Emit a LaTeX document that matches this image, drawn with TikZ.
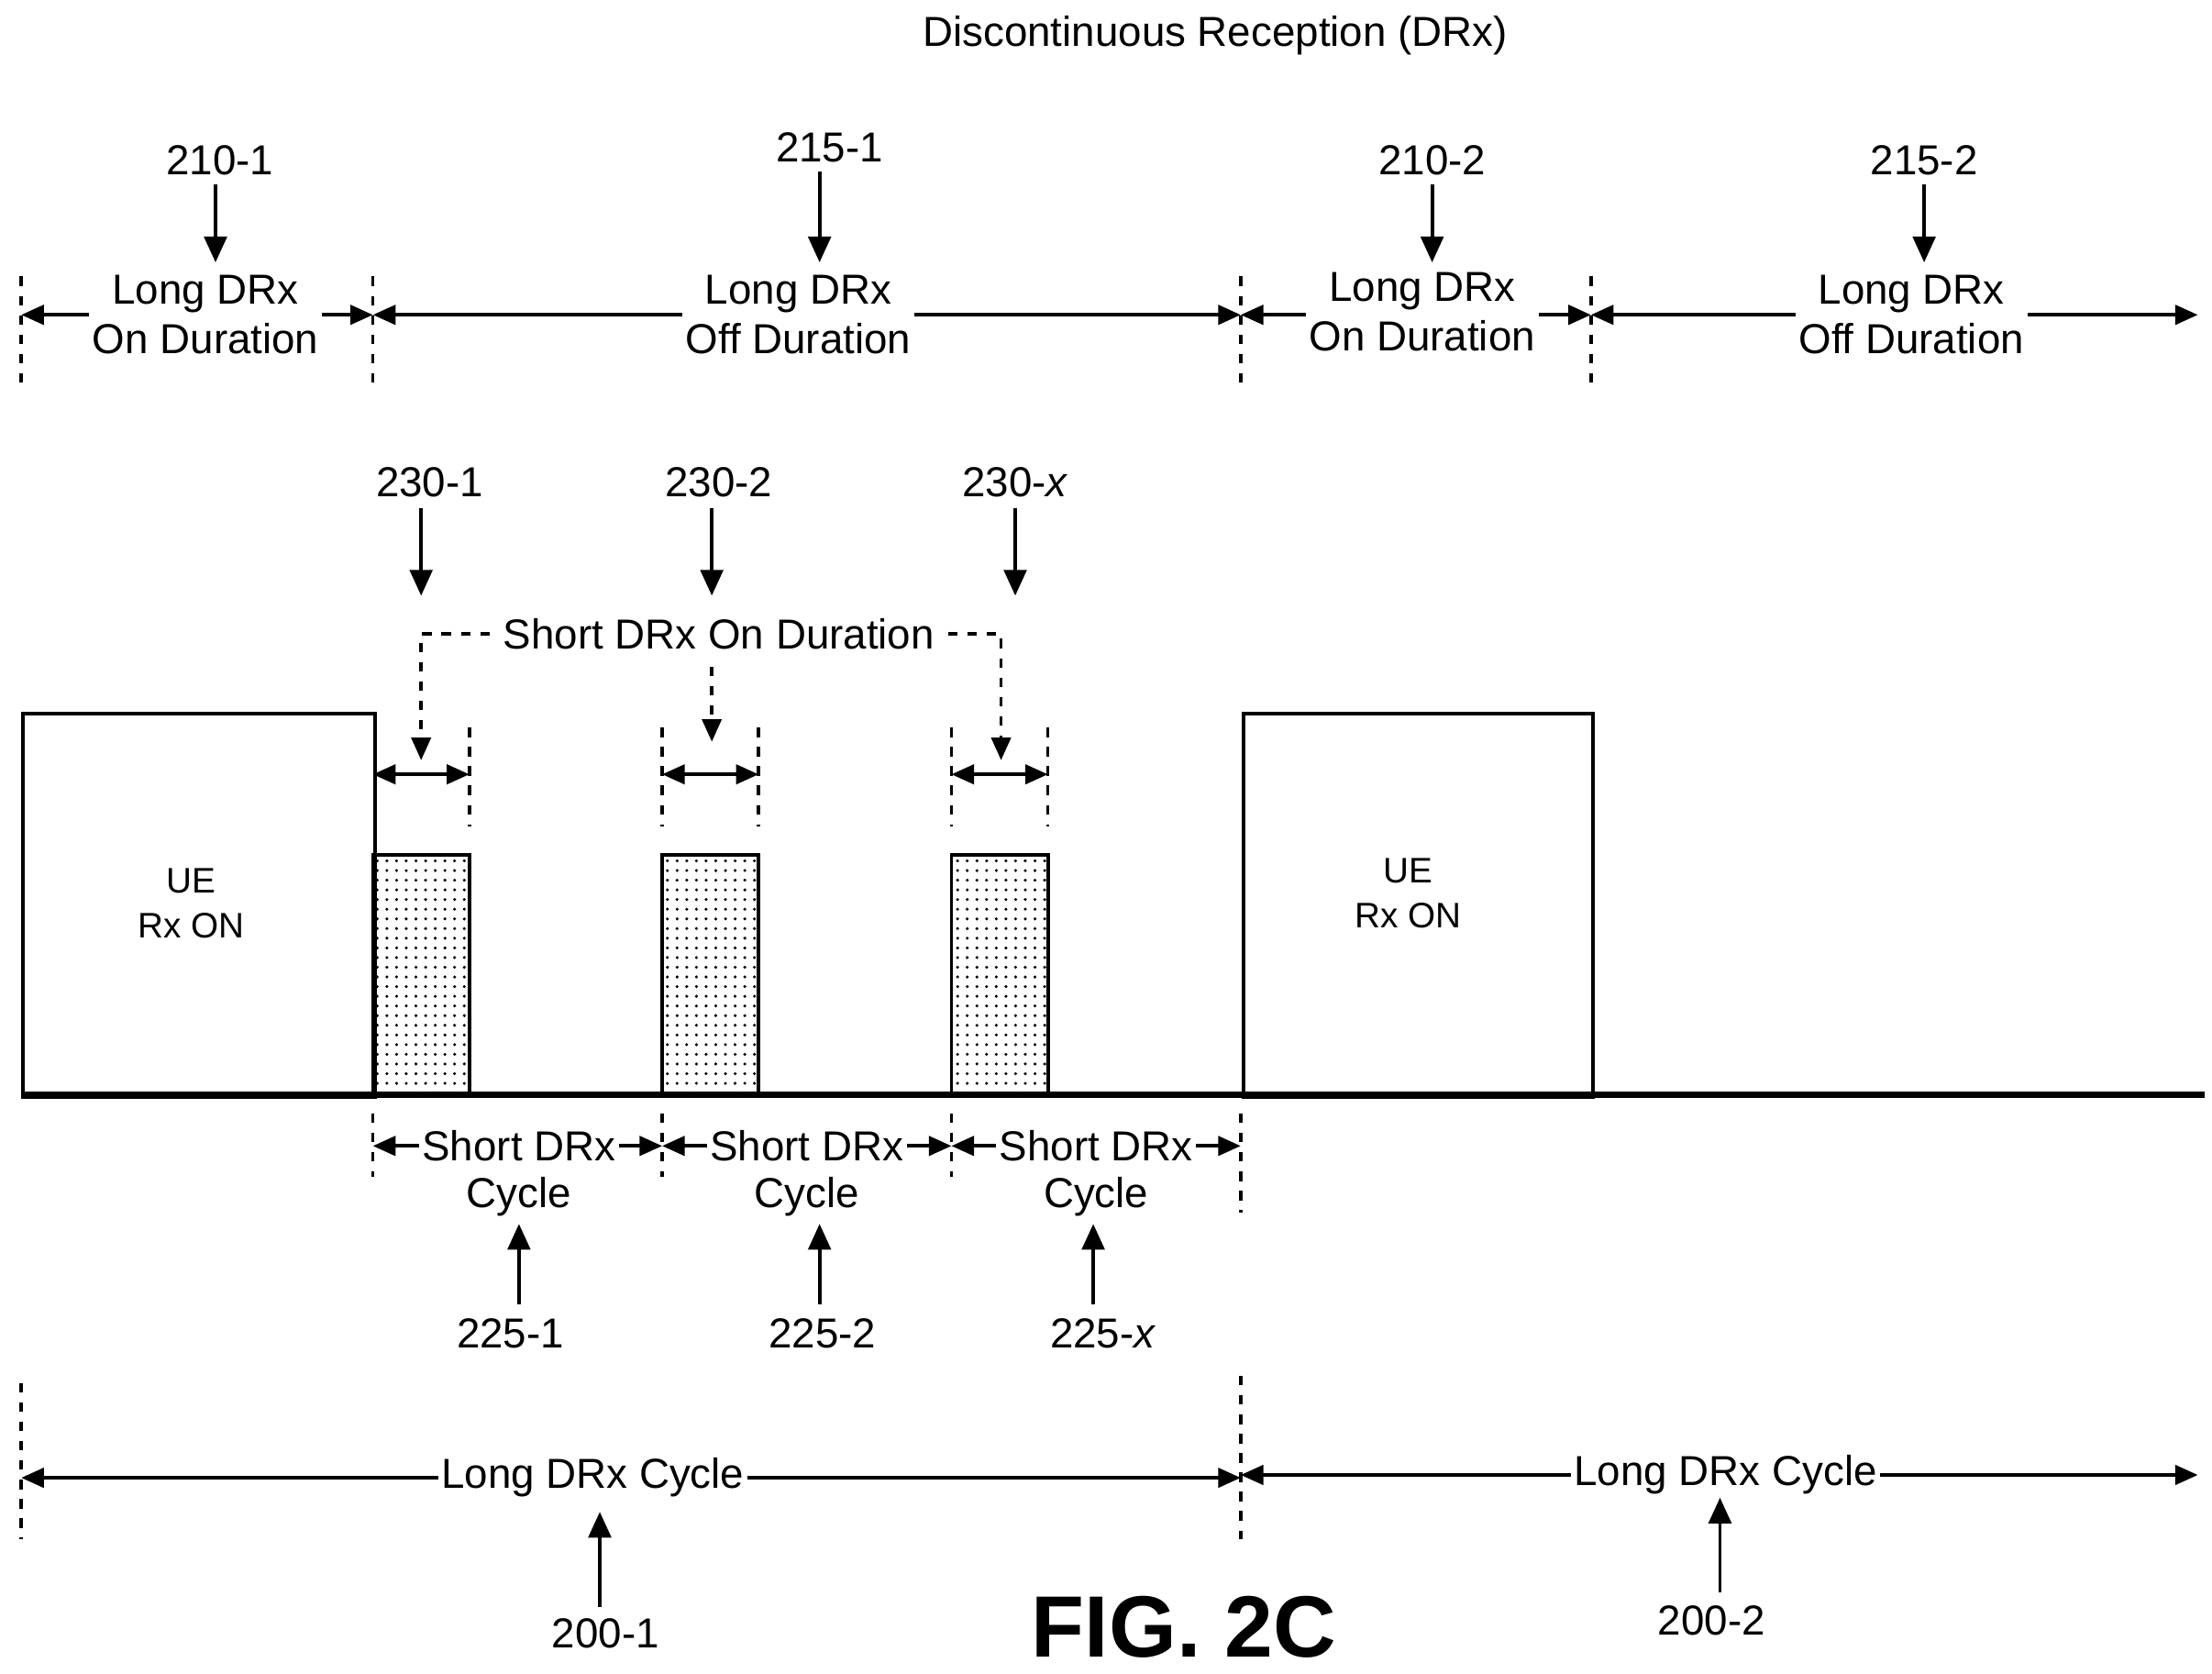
\documentclass[tikz,border=0pt]{standalone}
\usepackage{fontspec}
\setmainfont{Liberation Sans}
\usetikzlibrary{arrows.meta,patterns}
\begin{document}
\begin{tikzpicture}[x=0.01546cm,y=-0.01546cm,
  every node/.style={font=\fontsize{13}{15.5}\selectfont,align=center,inner sep=1pt},
  dim/.style={line width=1.1pt,{Triangle[length=7pt,width=6pt]}-{Triangle[length=7pt,width=6pt]}},
  ptr/.style={line width=1.1pt,-{Triangle[length=8pt,width=7pt]}},
  dptr/.style={line width=1pt,dashed,-{Triangle[length=7pt,width=6pt]}},
  vdash/.style={line width=1pt,dashed},
  lab/.style={fill=white},
  box/.style={draw,line width=1.1pt,fill=white},
  small/.style={font=\fontsize{11}{14}\selectfont}]
\useasboundingbox (0,0) rectangle (1560,1180);
\node (title) at (857,25) {Discontinuous Reception (DRx)};
\foreach \x/\n in {15/a,263/b,875/c,1122/d}{
  \draw[vdash] (\x,195) -- (\x,270); \coordinate (t\n) at (\x,222);}
\coordinate (te) at (1550,222);
\draw[dim] (ta) -- (tb); \node[lab] (l1) at (145,222) {Long DRx\\On Duration};
\draw[dim] (tb) -- (tc); \node[lab] (l2) at (563,222) {Long DRx\\Off Duration};
\draw[dim] (tc) -- (td); \node[lab] (l3) at (1003,220) {Long DRx\\On Duration};
\draw[dim] (td) -- (te); \node[lab] (l4) at (1348,222) {Long DRx\\Off Duration};
\foreach \x/\y/\t/\ax in {155/113/210-1/152,585/104/215-1/578,1010/113/210-2/1010,1357/113/215-2/1357}{
  \node at (\x,\y) {\t};
  \draw[ptr] (\ax,\y+17) -- (\ax,185);}
\node (r1) at (303,340) {230-1}; \draw[ptr] (297,358) -- (297,420);
\node (r2) at (507,340) {230-2}; \draw[ptr] (502,358) -- (502,420);
\node (r3) at (716,340) {230-\textit{x}}; \draw[ptr] (716,358) -- (716,420);
\node[inner sep=4pt] (sod) at (507,447) {Short DRx On Duration};
\draw[dptr] (sod.west) -- (297,447) -- (297,536);
\draw[dptr] (sod.east) -- (706,447) -- (706,536);
\draw[dptr] (502,470) -- (502,523);
\node[box,minimum width=248*0.01546cm,minimum height=270*0.01546cm,anchor=north west] (ue1) at (15,502) {};
\node[small] (ue1t) at (135,637) {UE\\Rx ON};
\node[box,minimum width=246*0.01546cm,minimum height=270*0.01546cm,anchor=north west] (ue2) at (876,502) {};
\node[small] (ue2t) at (993,630) {UE\\Rx ON};
\foreach \x in {263,467,671}{
  \draw[line width=1.1pt,pattern=dots] (\x,772) rectangle (\x+68,603);}
\foreach \x in {331,467,535,671,739}{\draw[vdash] (\x,513) -- (\x,583);}
\foreach \x in {263,467,671}{\draw[dim] (\x,546) -- (\x+68,546);}
\draw[line width=2pt] (15,772) -- (1555,772);
\foreach \x in {263,467,671}{\draw[vdash] (\x,785) -- (\x,830);}
\draw[vdash] (875,785) -- (875,855);
\foreach \x/\c in {263/366,467/569,671/773}{
  \draw[dim] (\x,808) -- (\x+204,808);
  \node[lab] at (\c,808) {Short DRx};
  \node at (\c,844) {Cycle};}
\node (c1) at (360,940) {225-1}; \draw[ptr] (366,920) -- (366,863);
\node (c2) at (580,940) {225-2}; \draw[ptr] (578,920) -- (578,863);
\node (c3) at (778,940) {225-\textit{x}}; \draw[ptr] (771,920) -- (771,863);
\draw[vdash] (15,975) -- (15,1085);
\draw[vdash] (875,970) -- (875,1085);
\draw[dim] (15,1042) -- (875,1042); \node[lab] (lc1) at (418,1042) {Long DRx Cycle};
\draw[dim] (875,1040) -- (1550,1040); \node[lab] (lc2) at (1217,1040) {Long DRx Cycle};
\node (p1) at (427,1152) {200-1}; \draw[ptr] (423,1133) -- (423,1066);
\node (p2) at (1207,1143) {200-2}; \draw[ptr] (1213,1123) -- (1213,1056);
\node[font=\fontsize{27}{30}\selectfont\bfseries] (fig) at (835,1147) {FIG. 2C};
\end{tikzpicture}
\end{document}
